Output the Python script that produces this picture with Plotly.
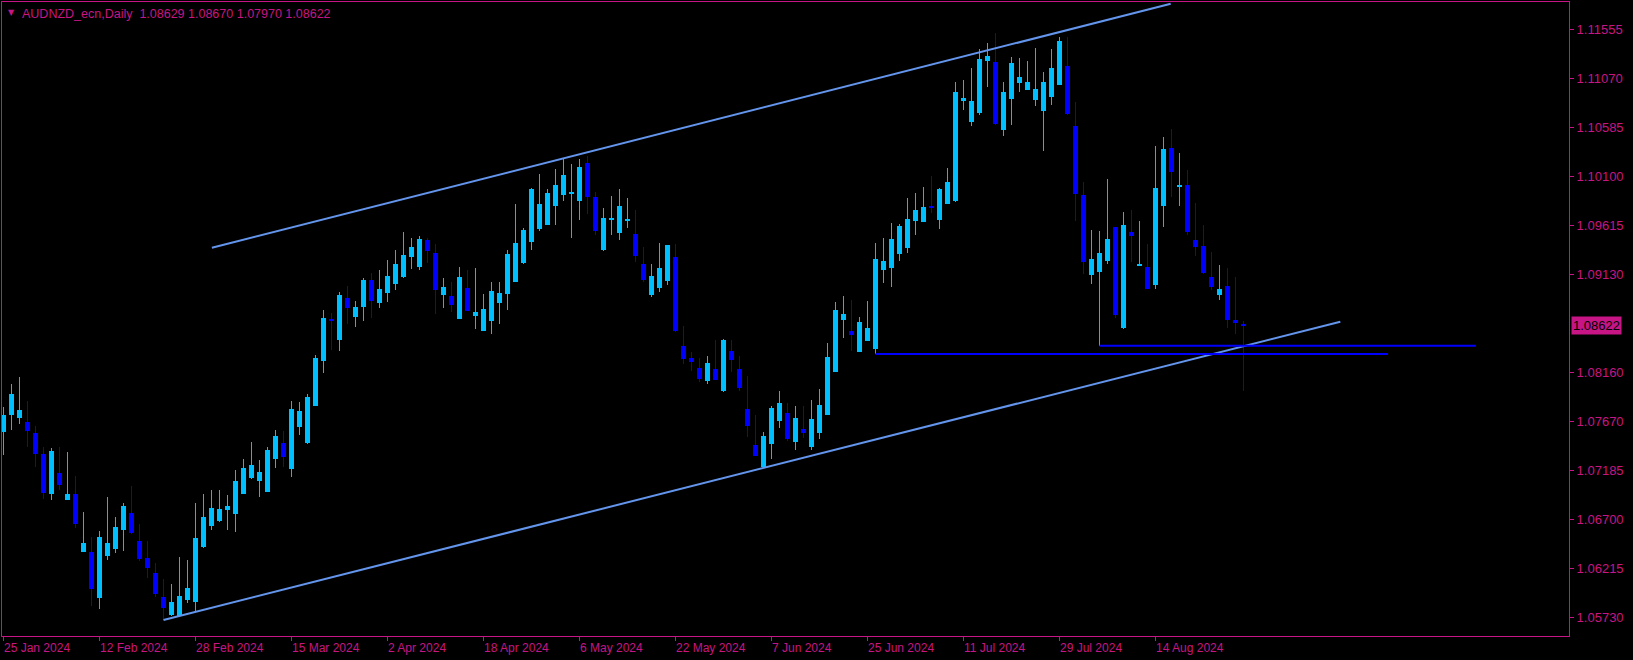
import plotly.graph_objects as go

# ---------------- data ----------------
chart_title = "AUDNZD_ecn,Daily  1.08629 1.08670 1.07970 1.08622"

opens = [1.07571, 1.07737, 1.07707, 1.07667, 1.07558, 1.07351, 1.06954, 1.07162, 1.06895, 1.06954,
         1.06380, 1.06380, 1.05925, 1.06341, 1.06410, 1.06598, 1.06766, 1.06489, 1.06321, 1.06172,
         1.05935, 1.05756, 1.05746, 1.05905, 1.05885, 1.06430, 1.06638, 1.06687, 1.06796, 1.06756,
         1.06954, 1.07113, 1.07083, 1.06974, 1.07301, 1.07459, 1.07202, 1.07618, 1.07459, 1.07826,
         1.08271, 1.08687, 1.08479, 1.08895, 1.08707, 1.08806, 1.09073, 1.08846, 1.08945, 1.09034,
         1.09103, 1.09301, 1.09202, 1.09470, 1.09341, 1.08925, 1.08915, 1.08687, 1.08994, 1.08717,
         1.08568, 1.08668, 1.08846, 1.08935, 1.09054, 1.09242, 1.09450, 1.09578, 1.09618, 1.09806,
         1.09915, 1.09925, 1.09856, 1.10232, 1.09895, 1.09371, 1.09668, 1.09539, 1.09658, 1.09529,
         1.09232, 1.08925, 1.08994, 1.09064, 1.09301, 1.08420, 1.08301, 1.08202, 1.08073, 1.08192,
         1.07974, 1.08370, 1.08192, 1.07796, 1.07440, 1.07222, 1.07450, 1.07677, 1.07757, 1.07469,
         1.07598, 1.07420, 1.07558, 1.07737, 1.08163, 1.08677, 1.08568, 1.08361, 1.08469, 1.08390,
         1.09173, 1.09192, 1.09331, 1.09390, 1.09658, 1.09648, 1.09806, 1.09668, 1.09826, 1.09856,
         1.10846, 1.10638, 1.10727, 1.11242, 1.11232, 1.10559, 1.10866, 1.11024, 1.10955, 1.10856,
         1.10747, 1.10886, 1.11004, 1.11193, 1.10598, 1.09915, 1.09123, 1.09153, 1.09262, 1.09598,
         1.08598, 1.09549, 1.09212, 1.09202, 1.09024, 1.09806, 1.10381, 1.09994, 1.10014, 1.09470,
         1.09410, 1.09103, 1.08925, 1.09014, 1.08677, 1.08629]

highs = [1.07819, 1.08044, 1.08116, 1.07875, 1.07628, 1.07420, 1.07410, 1.07420, 1.07370, 1.07133,
         1.06776, 1.06529, 1.06588, 1.06925, 1.06727, 1.06865, 1.07034, 1.06657, 1.06489, 1.06271,
         1.06113, 1.06063, 1.06331, 1.06301, 1.06865, 1.06954, 1.06994, 1.06994, 1.06945, 1.07192,
         1.07301, 1.07469, 1.07291, 1.07420, 1.07588, 1.07578, 1.07875, 1.07865, 1.07945, 1.08331,
         1.08776, 1.08747, 1.08955, 1.09014, 1.08866, 1.09093, 1.09143, 1.09173, 1.09272, 1.09371,
         1.09549, 1.09489, 1.09509, 1.09489, 1.09430, 1.09093, 1.09054, 1.09202, 1.09173, 1.09192,
         1.08935, 1.09054, 1.09054, 1.09371, 1.09826, 1.09588, 1.09984, 1.10123, 1.09975, 1.10173,
         1.10272, 1.10222, 1.10272, 1.10301, 1.09945, 1.09786, 1.09905, 1.09975, 1.09885, 1.09767,
         1.09400, 1.09232, 1.09440, 1.09420, 1.09430, 1.08618, 1.08361, 1.08301, 1.08321, 1.08479,
         1.08489, 1.08479, 1.08321, 1.08123, 1.07737, 1.07568, 1.07826, 1.07974, 1.07856, 1.07826,
         1.07826, 1.07885, 1.07994, 1.08450, 1.08856, 1.08915, 1.08875, 1.08707, 1.08866, 1.09440,
         1.09489, 1.09638, 1.09628, 1.09885, 1.09935, 1.09994, 1.10103, 1.09984, 1.10183, 1.11034,
         1.11054, 1.11173, 1.11361, 1.11420, 1.11519, 1.11034, 1.11282, 1.11272, 1.11242, 1.11371,
         1.11133, 1.11361, 1.11480, 1.11480, 1.10836, 1.10044, 1.09569, 1.09559, 1.10074, 1.09598,
         1.09747, 1.09767, 1.09658, 1.09430, 1.10400, 1.10489, 1.10569, 1.10331, 1.10163, 1.09836,
         1.09618, 1.09351, 1.09222, 1.09192, 1.09103, 1.08670]

lows = [1.07341, 1.07588, 1.07648, 1.07420, 1.07222, 1.06905, 1.06895, 1.06994, 1.06895, 1.06618,
        1.06380, 1.05845, 1.05816, 1.06301, 1.06370, 1.06390, 1.06558, 1.06291, 1.06123, 1.05935,
        1.05707, 1.05746, 1.05737, 1.05875, 1.05796, 1.06420, 1.06598, 1.06677, 1.06598, 1.06578,
        1.06954, 1.07103, 1.06925, 1.06974, 1.07212, 1.07222, 1.07123, 1.07539, 1.07450, 1.07826,
        1.08153, 1.08380, 1.08370, 1.08638, 1.08608, 1.08668, 1.08697, 1.08796, 1.08856, 1.08974,
        1.09093, 1.09182, 1.09173, 1.09242, 1.08737, 1.08796, 1.08757, 1.08687, 1.08767, 1.08588,
        1.08568, 1.08539, 1.08638, 1.08776, 1.09054, 1.09232, 1.09371, 1.09559, 1.09618, 1.09618,
        1.09856, 1.09489, 1.09668, 1.09727, 1.09519, 1.09361, 1.09519, 1.09470, 1.09588, 1.09252,
        1.09054, 1.08905, 1.08955, 1.09024, 1.08559, 1.08242, 1.08172, 1.08063, 1.08044, 1.08083,
        1.07964, 1.08163, 1.07974, 1.07519, 1.07331, 1.07222, 1.07301, 1.07608, 1.07479, 1.07390,
        1.07509, 1.07390, 1.07499, 1.07737, 1.08163, 1.08499, 1.08370, 1.08361, 1.08469, 1.08341,
        1.09044, 1.09004, 1.09262, 1.09341, 1.09519, 1.09648, 1.09737, 1.09578, 1.09826, 1.09846,
        1.10757, 1.10598, 1.10707, 1.10985, 1.10608, 1.10499, 1.10608, 1.10935, 1.10955, 1.10796,
        1.10351, 1.10806, 1.11004, 1.10707, 1.09658, 1.09133, 1.09034, 1.08423, 1.09232, 1.08697,
        1.08588, 1.09252, 1.09212, 1.08984, 1.08984, 1.09598, 1.09895, 1.09806, 1.09519, 1.09311,
        1.09133, 1.08974, 1.08875, 1.08598, 1.08539, 1.07970]

closes = [1.07737, 1.07945, 1.07786, 1.07578, 1.07351, 1.06964, 1.07380, 1.07044, 1.06954, 1.06657,
          1.06469, 1.06014, 1.06529, 1.06469, 1.06628, 1.06836, 1.06568, 1.06311, 1.06222, 1.05964,
          1.05826, 1.05885, 1.05944, 1.06024, 1.06519, 1.06727, 1.06816, 1.06806, 1.06836, 1.07083,
          1.07212, 1.07242, 1.07172, 1.07390, 1.07529, 1.07321, 1.07796, 1.07776, 1.07915, 1.08301,
          1.08697, 1.08668, 1.08925, 1.08796, 1.08806, 1.09073, 1.08866, 1.08984, 1.09113, 1.09232,
          1.09321, 1.09400, 1.09479, 1.09361, 1.08974, 1.09004, 1.08826, 1.09103, 1.08767, 1.08757,
          1.08786, 1.08965, 1.08945, 1.09331, 1.09440, 1.09569, 1.09975, 1.09826, 1.09935, 1.10014,
          1.10113, 1.09945, 1.10192, 1.09895, 1.09559, 1.09687, 1.09687, 1.09806, 1.09678, 1.09311,
          1.09073, 1.09113, 1.09192, 1.09420, 1.08568, 1.08291, 1.08262, 1.08093, 1.08252, 1.08083,
          1.08479, 1.08281, 1.08004, 1.07628, 1.07331, 1.07529, 1.07806, 1.07856, 1.07499, 1.07707,
          1.07558, 1.07697, 1.07836, 1.08311, 1.08776, 1.08737, 1.08529, 1.08658, 1.08598, 1.09281,
          1.09262, 1.09479, 1.09608, 1.09678, 1.09767, 1.09796, 1.09786, 1.09975, 1.10044, 1.10935,
          1.10876, 1.10846, 1.11262, 1.11292, 1.10618, 1.10935, 1.11222, 1.11084, 1.11034, 1.10965,
          1.11034, 1.11173, 1.11440, 1.10717, 1.09925, 1.09252, 1.09281, 1.09341, 1.09479, 1.08727,
          1.09618, 1.09509, 1.09232, 1.08984, 1.09984, 1.10371, 1.10143, 1.10014, 1.09549, 1.09400,
          1.09143, 1.09004, 1.08984, 1.08677, 1.08648, 1.08622]

date_labels = ["25 Jan 2024", "12 Feb 2024", "28 Feb 2024", "15 Mar 2024", "2 Apr 2024",
               "18 Apr 2024", "6 May 2024", "22 May 2024", "7 Jun 2024", "25 Jun 2024",
               "11 Jul 2024", "29 Jul 2024", "14 Aug 2024"]
date_label_bars = [0, 12, 24, 36, 48, 60, 72, 84, 96, 108, 120, 132, 144]

price_labels = ["1.11555", "1.11070", "1.10585", "1.10100", "1.09615", "1.09130",
                "1.08160", "1.07670", "1.07185", "1.06700", "1.06215", "1.05730"]
last_price = 1.08622

# drawn objects (bar index, price)
channel_lower_bars = [20, 167.1]
channel_lower_prices = [1.05707, 1.08660]
channel_upper_bars = [26.05, 145.9]
channel_upper_prices = [1.09392, 1.11809]
level1_bars = [109, 173.05]
level1_price = 1.08341
level2_bars = [137, 184.05]
level2_price = 1.08423

# ---------------- style ----------------
BG = "#000000"
FG = "#C71585"
BULL = "#00BFFF"
BEAR = "#0000FF"
TREND = "#6495ED"
FONT = "Liberation Sans, Arial, sans-serif"

n = len(opens)
idx = list(range(n))
colors = [BULL if c >= o else BEAR for o, c in zip(opens, closes)]
min_body = 0.0001
body_base = [min(o, c) for o, c in zip(opens, closes)]
body_h = [max(abs(c - o), min_body) for o, c in zip(opens, closes)]
wick_base = lows
wick_h = [h - l for h, l in zip(highs, lows)]

fig = go.Figure()
fig.add_trace(go.Bar(x=idx, y=wick_h, base=wick_base, width=0.125,
                     marker=dict(color=colors, line=dict(width=0)),
                     hoverinfo="skip", showlegend=False))
fig.add_trace(go.Bar(x=idx, y=body_h, base=body_base, width=0.625,
                     marker=dict(color=colors, line=dict(width=0)),
                     hoverinfo="skip", showlegend=False))

for xs, ys in [(channel_lower_bars, channel_lower_prices), (channel_upper_bars, channel_upper_prices)]:
    fig.add_trace(go.Scatter(x=xs, y=ys, mode="lines", line=dict(color=TREND, width=2),
                             hoverinfo="skip", showlegend=False))
for xs, p in [(level1_bars, level1_price), (level2_bars, level2_price)]:
    fig.add_trace(go.Scatter(x=xs, y=[p, p], mode="lines", line=dict(color=BEAR, width=2),
                             hoverinfo="skip", showlegend=False))

annotations = []
for b, t in zip(date_label_bars, date_labels):
    annotations.append(dict(x=b, y=0, xref="x", yref="paper", text=t, showarrow=False,
                            xanchor="left", yanchor="top", yshift=-3, xshift=-2,
                            font=dict(family=FONT, size=12, color=FG)))
annotations.append(dict(x=0, y=1, xref="paper", yref="paper", text=chart_title, showarrow=False,
                        xanchor="left", yanchor="top", xshift=18, yshift=-3,
                        font=dict(family=FONT, size=12.5, color=FG)))
annotations.append(dict(x=0, y=1, xref="paper", yref="paper", text="▼", showarrow=False,
                        xanchor="left", yanchor="top", xshift=4, yshift=-4,
                        font=dict(family="DejaVu Sans", size=8, color=FG)))
annotations.append(dict(x=1, y=last_price, xref="paper", yref="y", text=f"{last_price:.5f}",
                        showarrow=False, xanchor="left", yanchor="middle", xshift=2,
                        bgcolor=FG, borderpad=1,
                        font=dict(family=FONT, size=13, color="#000000")))

fig.update_layout(
    width=1633, height=660, autosize=False,
    margin=dict(l=2, r=64, t=2, b=24, pad=0),
    paper_bgcolor=BG, plot_bgcolor=BG,
    barmode="overlay", bargap=0,
    showlegend=False,
    annotations=annotations,
    xaxis=dict(range=[-0.1875, 195.6875], showgrid=False, zeroline=False,
               showline=True, linecolor=FG, linewidth=1, mirror=True,
               ticks="outside", ticklen=4, tickcolor=FG,
               tickvals=date_label_bars, showticklabels=False, fixedrange=True),
    yaxis=dict(range=[1.05548, 1.11826], side="right", showgrid=False, zeroline=False,
               showline=True, linecolor=FG, linewidth=1, mirror=True,
               ticks="outside", ticklen=4, tickcolor=FG,
               tickvals=[float(t) for t in price_labels], ticktext=price_labels,
               tickfont=dict(family=FONT, size=13, color=FG), fixedrange=True),
)

fig.write_html("out.html", config={"displayModeBar": False},
               post_script="document.body.style.margin='0';")
